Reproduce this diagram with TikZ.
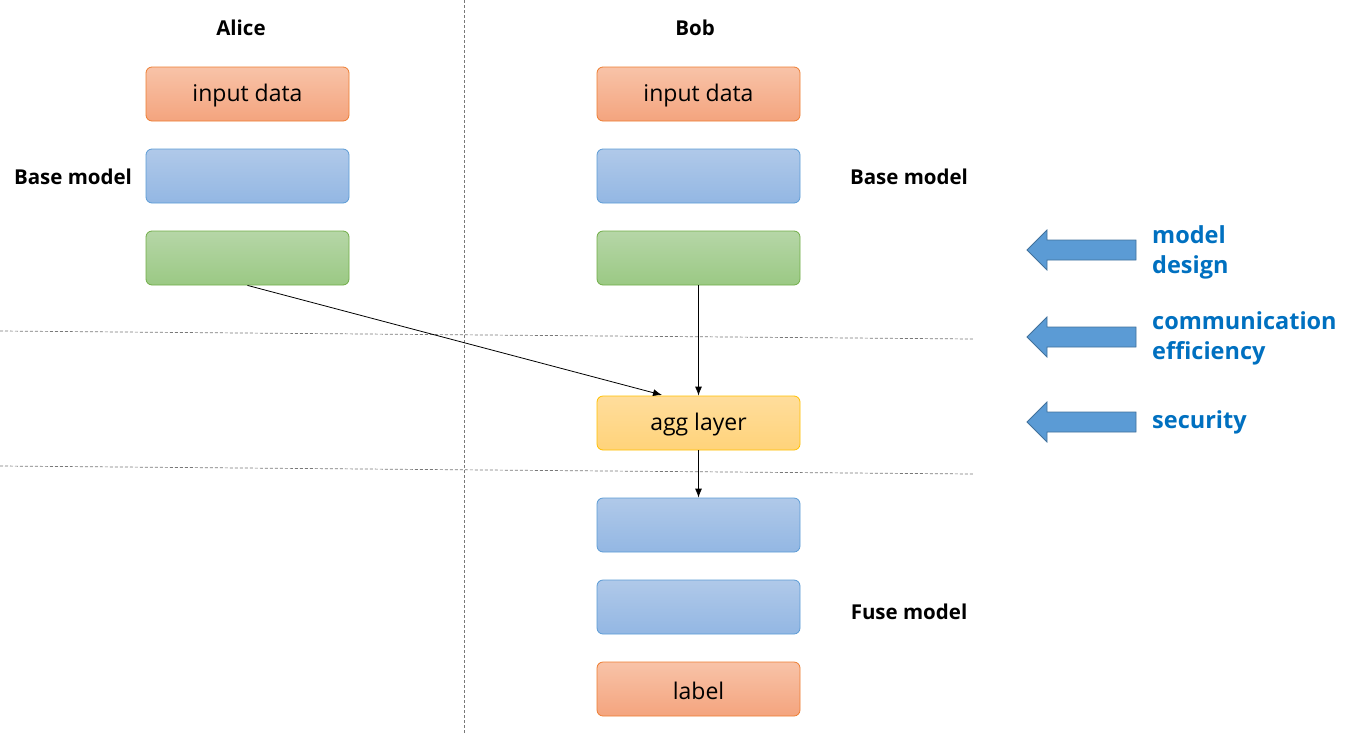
\documentclass[tikz,border=0pt]{standalone}
\usepackage{fontspec}
\setmainfont{Open Sans}
\begin{document}
\begin{tikzpicture}[x=1pt,y=-1pt,
  box/.style={draw,rounded corners=6pt,minimum width=203pt,minimum height=54pt,line width=0.8pt,inner sep=0pt},
  orangebox/.style={box,draw={rgb,255:red,237;green,125;blue,49},top color={rgb,255:red,248;green,195;blue,168},bottom color={rgb,255:red,244;green,164;blue,126}},
  bluebox/.style={box,draw={rgb,255:red,91;green,155;blue,213},top color={rgb,255:red,176;green,201;blue,233},bottom color={rgb,255:red,147;green,183;blue,227}},
  greenbox/.style={box,draw={rgb,255:red,112;green,173;blue,71},top color={rgb,255:red,182;green,214;blue,167},bottom color={rgb,255:red,155;green,201;blue,132}},
  yellowbox/.style={box,draw={rgb,255:red,255;green,192;blue,0},top color={rgb,255:red,255;green,221;blue,156},bottom color={rgb,255:red,255;green,211;blue,122}},
  boxtext/.style={font=\fontsize{23}{27}\selectfont,inner sep=0pt},
  lbl/.style={font=\fontsize{20.5}{24}\selectfont\bfseries},
  bluetxt/.style={font=\fontsize{23.5}{30}\selectfont\bfseries,text={rgb,255:red,0;green,112;blue,192},align=left,anchor=west,inner sep=0pt},
  sep/.style={draw={rgb,255:red,120;green,120;blue,120},dash pattern=on 3pt off 2pt,line width=0.7pt},
  conn/.style={draw,line width=0.8pt,-{Latex[length=9pt,width=7pt]}},
  blockarrow/.style={draw={rgb,255:red,65;green,113;blue,156},fill={rgb,255:red,91;green,155;blue,213},line width=0.8pt}
]
\usetikzlibrary{arrows.meta}
\useasboundingbox (0,0) rectangle (1348,734);

% separators
\coordinate (vt) at (464,0);
\coordinate (vb) at (464,734);
\draw[sep] (vt) -- (vb);
\coordinate (h1a) at (0,331);
\coordinate (h1b) at (973,339);
\draw[sep] (h1a) -- (h1b);
\coordinate (h2a) at (0,466);
\coordinate (h2b) at (973,474);
\draw[sep] (h2a) -- (h2b);

% headings
\node[lbl] (alice) at (241,28) {Alice};
\node[lbl] (bob) at (695,28) {Bob};
\node[lbl] (basea) at (73,177) {Base model};
\node[lbl] (baseb) at (909,177) {Base model};
\node[lbl] (fuse) at (909,612) {Fuse model};

% Alice column
\node[orangebox] (ain) at (247.5,94) {};
\node[bluebox] (ablue) at (247.5,176) {};
\node[greenbox] (agreen) at (247.5,258) {};
\node[boxtext] (aintxt) at (247.5,96) {input data};

% Bob column
\node[orangebox] (bin) at (698.5,94) {};
\node[boxtext] (bintxt) at (698.5,96) {input data};
\node[bluebox] (bblue) at (698.5,176) {};
\node[greenbox] (bgreen) at (698.5,258) {};
\node[yellowbox] (agg) at (698.5,423) {};
\node[boxtext] (aggtxt) at (698.5,425) {agg layer};
\node[bluebox] (f1) at (698.5,525) {};
\node[bluebox] (f2) at (698.5,607) {};
\node[orangebox] (lab) at (698.5,689) {};
\node[boxtext] (labtxt) at (698.5,691) {label};

% connectors
\coordinate (aggin) at (662,395);
\draw[conn] (agreen.south) -- (aggin);
\draw[conn] (bgreen.south) -- (agg.north);
\draw[conn] (agg.south) -- (f1.north);

% block arrows
\foreach \cy in {250,337,422}{
  \draw[blockarrow] (1027,\cy) -- (1047,\cy-20) -- (1047,\cy-10) -- (1136,\cy-10) -- (1136,\cy+10) -- (1047,\cy+10) -- (1047,\cy+20) -- cycle;
}

% right texts
\node[bluetxt] (t1) at (1152,252) {model\\design};
\node[bluetxt] (t2) at (1152,338) {communication\\efficiency};
\node[bluetxt] (t3) at (1152,422) {security};
\end{tikzpicture}
\end{document}
